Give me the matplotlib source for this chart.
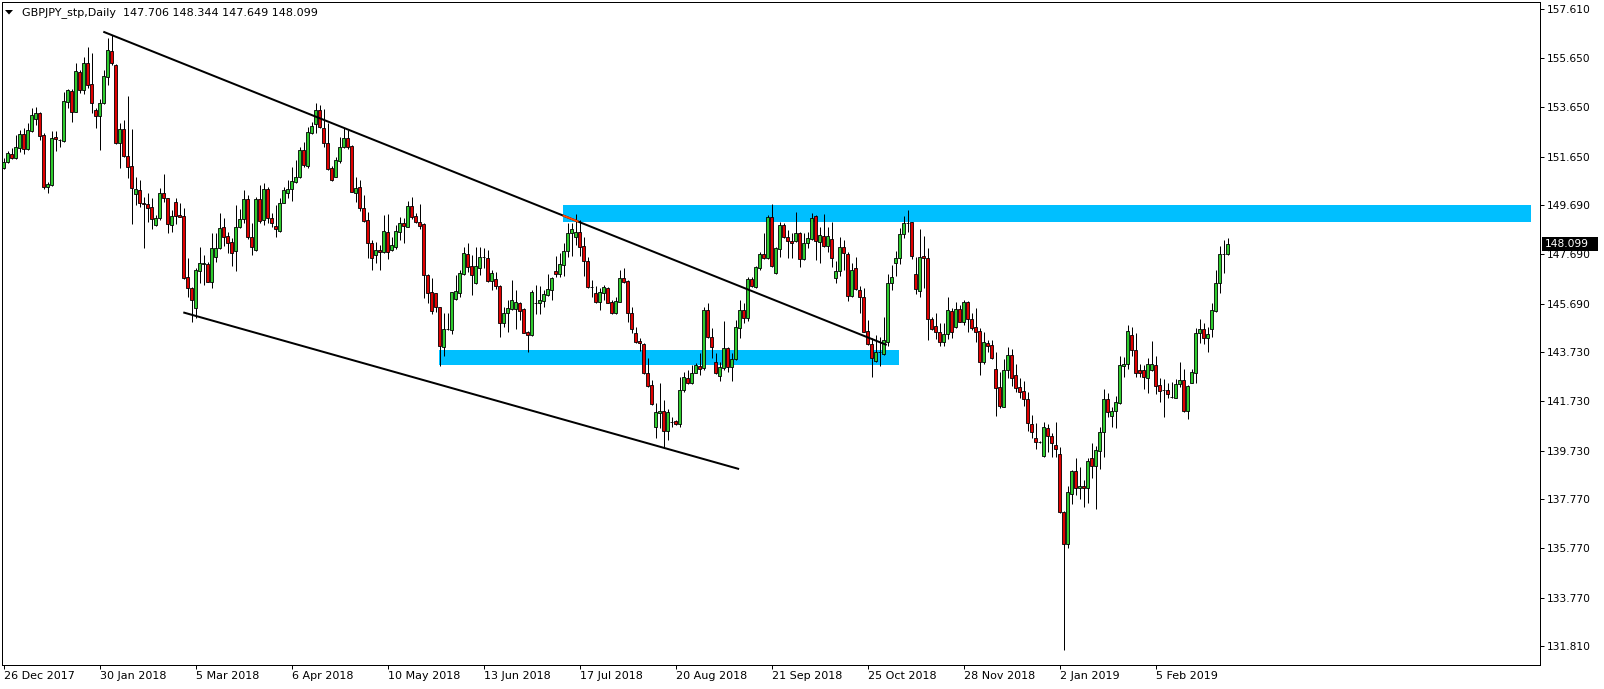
import matplotlib
matplotlib.use('Agg')
import matplotlib.pyplot as plt
import matplotlib.transforms as mtransforms
from matplotlib.patches import Rectangle, Polygon
import numpy as np

# chart header
symbol = 'GBPJPY_stp,Daily'

# daily OHLC, 26 Dec 2017 .. early Mar 2019
opens = [
    151.20, 151.41, 151.74, 151.58, 152.01, 152.55, 151.95, 152.68, 153.16, 153.40,
    152.52, 150.43, 150.49, 152.45, 152.33, 152.29, 153.85, 154.31, 153.47, 155.06,
    154.35, 155.43, 154.58, 153.54, 153.31, 153.81, 154.89, 155.93, 155.36, 152.18,
    152.77, 151.67, 151.27, 150.12, 150.29, 149.78, 149.72, 149.59, 148.87, 149.14,
    150.16, 149.95, 148.87, 149.79, 149.28, 149.24, 146.75, 146.31, 145.50, 147.02,
    147.28, 147.28, 146.57, 147.59, 147.93, 148.79, 148.44, 148.17, 147.83, 148.78,
    149.10, 149.91, 148.40, 147.86, 149.91, 149.08, 150.32, 149.14, 148.83, 148.64,
    149.78, 150.16, 150.32, 150.63, 150.81, 151.91, 151.28, 152.59, 152.97, 153.54,
    152.79, 152.21, 151.17, 150.83, 151.48, 152.02, 152.39, 152.08, 150.16, 150.40,
    149.55, 149.08, 148.16, 147.64, 147.86, 147.79, 148.60, 147.86, 148.00, 148.60,
    148.94, 148.81, 149.64, 149.24, 149.01, 148.91, 146.85, 146.14, 146.10, 145.54,
    143.91, 144.64, 144.62, 145.86, 146.13, 146.89, 147.70, 147.21, 146.54, 147.12,
    147.56, 147.52, 146.62, 146.67, 146.40, 144.91, 145.29, 145.46, 145.46, 145.70,
    145.45, 144.52, 144.41, 145.70, 145.70, 145.81, 146.04, 146.24, 147.01, 146.89,
    147.25, 147.83, 148.54, 148.37, 148.58, 148.02, 147.41, 146.35, 146.13, 145.77,
    146.13, 146.31, 145.74, 145.32, 145.77, 146.71, 146.62, 145.29, 144.51, 144.17,
    144.04, 142.86, 142.39, 140.67, 141.24, 141.33, 140.54, 140.87, 140.93, 140.79,
    142.18, 142.66, 142.45, 142.89, 143.16, 143.06, 145.43, 144.35, 143.33, 142.77,
    143.06, 143.87, 143.13, 143.43, 144.71, 145.43, 145.09, 146.67, 146.35, 147.12,
    147.68, 147.52, 149.18, 146.91, 147.89, 148.87, 148.37, 148.23, 148.24, 148.56,
    147.48, 148.13, 148.29, 149.24, 148.17, 148.43, 148.04, 148.31, 146.71, 147.01,
    147.97, 147.70, 146.01, 147.12, 146.24, 145.94, 144.58, 144.04, 143.37, 143.71,
    143.63, 144.14, 146.51, 147.32, 147.52, 148.50, 148.94, 148.98, 146.87, 146.21,
    147.62, 147.52, 145.06, 144.78, 144.52, 144.14, 144.44, 145.39, 144.75, 145.47,
    144.93, 145.74, 145.05, 144.73, 144.58, 143.33, 144.08, 144.01, 143.04, 142.29,
    141.51, 142.98, 143.60, 142.79, 142.29, 142.14, 141.82, 140.81, 140.23, 140.06,
    139.52, 140.63, 140.32, 139.96, 139.58, 137.25, 135.94, 137.95, 138.90, 138.20,
    138.29, 138.20, 139.41, 139.10, 139.71, 140.47, 141.81, 141.14, 141.33, 141.67,
    143.17, 143.22, 144.41, 143.81, 143.00, 143.00, 142.66, 143.00, 143.20, 142.39,
    142.19, 142.19, 141.89, 141.88, 142.43, 142.59, 141.35, 142.48, 142.86, 144.48,
    144.64, 144.28, 144.64, 145.40, 146.51, 147.68, 147.706,
]
highs = [
    151.60, 151.87, 151.98, 152.52, 152.72, 152.79, 152.99, 153.63, 153.67, 153.44,
    152.59, 150.63, 152.68, 152.68, 152.36, 154.28, 154.39, 154.39, 155.43, 155.16,
    155.70, 156.08, 155.83, 153.60, 153.98, 155.16, 156.44, 156.58, 155.39, 152.99,
    153.13, 154.10, 152.77, 150.83, 150.70, 150.02, 150.16, 149.95, 149.28, 150.36,
    150.93, 149.98, 149.48, 149.98, 149.75, 149.55, 147.52, 146.37, 147.12, 147.99,
    147.66, 147.36, 148.54, 148.54, 149.35, 149.14, 148.60, 148.33, 149.68, 149.51,
    150.29, 150.09, 148.94, 150.02, 150.50, 150.56, 150.43, 149.35, 149.68, 149.95,
    150.43, 150.70, 151.21, 151.51, 152.05, 152.25, 152.86, 153.06, 153.83, 153.74,
    153.56, 152.99, 151.27, 151.64, 152.45, 152.79, 152.72, 152.12, 150.83, 150.70,
    150.09, 149.41, 148.27, 148.20, 148.06, 149.28, 149.32, 148.40, 148.87, 149.21,
    149.14, 149.86, 149.99, 149.35, 149.72, 148.94, 146.89, 146.71, 146.13, 145.56,
    145.29, 145.29, 146.17, 146.85, 147.05, 147.99, 148.13, 147.66, 147.97, 147.99,
    147.93, 147.86, 147.05, 146.98, 146.44, 145.56, 145.83, 146.64, 146.24, 145.77,
    145.50, 144.59, 146.24, 146.44, 146.40, 146.24, 146.89, 146.75, 147.62, 147.75,
    148.13, 148.94, 148.97, 149.32, 149.08, 148.37, 147.59, 146.64, 146.40, 146.31,
    146.44, 146.35, 145.83, 145.94, 147.05, 147.12, 146.64, 145.56, 144.75, 144.28,
    144.10, 143.47, 142.59, 141.64, 142.45, 141.78, 141.40, 141.10, 140.97, 142.72,
    142.93, 142.99, 143.20, 143.29, 143.67, 145.56, 145.70, 144.68, 143.67, 143.33,
    144.99, 143.94, 143.67, 145.02, 145.83, 145.70, 146.75, 146.75, 147.21, 147.79,
    148.56, 149.28, 149.72, 147.97, 149.01, 148.94, 148.67, 148.56, 149.41, 148.60,
    148.54, 148.60, 149.35, 149.28, 148.81, 149.32, 148.81, 148.98, 147.41, 148.40,
    148.27, 147.79, 147.32, 147.59, 146.40, 146.33, 145.02, 144.28, 144.41, 144.35,
    145.16, 146.87, 147.25, 147.82, 148.74, 149.24, 149.48, 149.01, 147.59, 148.71,
    148.43, 147.95, 145.16, 145.29, 144.89, 144.89, 145.94, 145.49, 145.74, 145.63,
    145.83, 145.79, 145.32, 145.49, 144.71, 144.55, 144.21, 144.21, 143.74, 142.93,
    143.44, 143.91, 143.85, 143.24, 142.66, 142.55, 142.12, 141.17, 140.83, 140.12,
    140.90, 140.81, 140.43, 140.90, 139.89, 137.29, 138.29, 138.94, 139.41, 139.08,
    138.54, 139.44, 140.05, 139.91, 140.70, 142.21, 142.05, 141.48, 141.94, 143.56,
    143.54, 144.82, 144.75, 144.48, 143.24, 143.20, 143.47, 144.18, 143.56, 142.66,
    142.62, 142.48, 142.52, 142.62, 143.33, 143.02, 142.39, 143.02, 144.71, 145.06,
    144.89, 144.73, 145.70, 147.05, 148.02, 148.27, 148.344,
]
lows = [
    151.14, 151.37, 151.55, 151.55, 151.85, 151.74, 151.91, 152.66, 152.93, 152.32,
    150.33, 150.16, 150.47, 151.87, 152.05, 152.25, 153.60, 153.06, 153.44, 154.21,
    154.17, 154.41, 153.40, 152.79, 151.91, 153.77, 154.55, 155.36, 152.14, 151.17,
    151.64, 150.79, 148.90, 149.69, 149.62, 147.95, 149.01, 148.71, 148.83, 149.08,
    149.82, 148.54, 148.58, 148.90, 149.18, 146.68, 145.97, 144.95, 145.09, 146.51,
    146.44, 146.55, 146.31, 147.39, 147.89, 148.02, 147.75, 147.21, 147.02, 148.74,
    148.94, 148.29, 147.66, 147.83, 148.94, 148.87, 148.97, 148.81, 148.37, 148.60,
    149.75, 149.95, 149.86, 150.59, 150.77, 151.24, 151.17, 152.56, 152.59, 152.79,
    152.02, 151.10, 150.67, 150.81, 151.37, 151.98, 151.94, 150.20, 149.82, 149.45,
    149.01, 147.52, 147.05, 147.32, 147.05, 147.72, 147.48, 147.82, 147.89, 148.27,
    148.16, 148.78, 149.10, 148.97, 148.70, 145.90, 145.70, 145.25, 145.36, 143.17,
    143.58, 144.62, 144.46, 145.83, 145.96, 146.85, 146.98, 146.04, 146.48, 146.85,
    147.12, 146.58, 146.24, 146.27, 144.35, 144.73, 144.55, 145.43, 144.64, 145.02,
    144.48, 143.74, 144.39, 145.25, 145.25, 145.56, 146.00, 145.83, 146.75, 146.78,
    146.81, 147.59, 147.62, 148.06, 147.62, 146.81, 146.31, 145.97, 145.73, 145.43,
    145.83, 145.70, 145.25, 145.25, 145.74, 146.54, 144.95, 144.48, 144.07, 143.78,
    142.83, 142.32, 141.58, 140.22, 140.63, 139.82, 140.16, 140.70, 140.77, 140.70,
    142.12, 142.43, 142.43, 142.86, 142.79, 142.99, 144.28, 143.47, 142.83, 142.56,
    142.99, 142.93, 142.56, 143.40, 144.31, 144.91, 144.98, 146.37, 146.31, 147.05,
    147.48, 147.48, 147.18, 146.89, 147.59, 148.33, 147.55, 147.52, 148.20, 147.18,
    147.45, 147.93, 148.27, 147.45, 147.32, 148.00, 147.79, 147.18, 146.51, 146.81,
    147.05, 145.79, 145.97, 146.24, 145.29, 144.52, 144.01, 142.73, 143.33, 143.17,
    143.60, 143.98, 146.24, 146.81, 147.28, 148.33, 148.60, 147.48, 146.06, 145.97,
    146.31, 144.21, 144.62, 144.25, 143.98, 143.98, 144.24, 144.31, 144.71, 144.93,
    144.82, 144.52, 144.62, 144.14, 142.79, 143.23, 143.74, 143.44, 141.14, 141.47,
    141.48, 142.69, 142.36, 142.12, 141.87, 141.55, 140.54, 140.23, 139.79, 140.02,
    139.45, 139.68, 139.48, 139.48, 137.21, 131.66, 135.79, 137.56, 137.93, 137.75,
    137.43, 137.62, 138.60, 137.35, 138.97, 139.48, 141.08, 140.67, 140.63, 141.60,
    142.70, 143.05, 143.56, 142.73, 142.73, 142.21, 142.05, 142.97, 142.02, 141.71,
    141.10, 141.85, 141.85, 141.85, 142.32, 141.28, 141.00, 142.45, 142.45, 144.10,
    144.05, 143.74, 144.32, 145.36, 146.13, 146.94, 147.649,
]
closes = [
    151.44, 151.78, 151.58, 152.02, 152.55, 151.95, 152.72, 153.33, 153.40, 152.49,
    150.43, 150.52, 152.39, 152.35, 152.31, 153.90, 154.33, 153.44, 155.12, 154.35,
    155.43, 154.55, 153.81, 153.31, 153.81, 154.91, 155.97, 155.45, 152.18, 152.77,
    151.68, 151.24, 150.39, 150.33, 149.75, 149.71, 149.58, 149.10, 149.14, 150.16,
    149.95, 148.90, 149.24, 149.25, 149.21, 146.71, 146.31, 145.83, 147.05, 147.33,
    147.35, 146.57, 147.93, 147.93, 148.77, 148.40, 148.16, 147.75, 148.78, 149.12,
    149.91, 148.37, 147.99, 149.91, 149.05, 150.32, 149.14, 148.94, 148.70, 149.78,
    150.29, 150.32, 150.66, 150.81, 151.91, 151.31, 152.63, 152.89, 153.54, 152.83,
    152.21, 151.14, 150.70, 151.51, 152.05, 152.39, 152.05, 150.22, 150.36, 149.55,
    149.05, 148.16, 147.52, 147.86, 147.79, 148.63, 147.79, 148.06, 148.63, 148.94,
    148.83, 149.64, 149.18, 149.01, 148.83, 146.85, 146.13, 145.40, 145.56, 143.97,
    144.64, 144.67, 146.14, 146.20, 146.91, 147.72, 147.18, 146.85, 147.21, 147.56,
    147.58, 146.62, 146.91, 146.40, 144.91, 145.29, 145.50, 145.83, 145.74, 145.40,
    144.51, 144.41, 146.14, 145.71, 145.83, 146.08, 146.27, 146.71, 146.90, 147.28,
    147.83, 148.54, 148.70, 148.58, 147.99, 147.43, 146.35, 146.37, 145.77, 146.14,
    146.35, 145.73, 145.32, 145.81, 146.71, 146.58, 145.29, 144.64, 144.14, 144.07,
    142.86, 142.36, 141.60, 141.28, 141.33, 140.54, 141.31, 140.89, 140.79, 142.18,
    142.70, 142.45, 142.89, 143.20, 143.02, 145.43, 144.32, 143.94, 142.86, 143.10,
    143.87, 143.13, 143.43, 144.75, 145.43, 145.12, 146.67, 146.40, 147.16, 147.68,
    147.52, 149.18, 147.21, 147.93, 148.87, 148.37, 148.24, 148.13, 148.54, 147.48,
    148.16, 148.33, 149.14, 148.24, 148.47, 148.04, 148.43, 147.55, 147.01, 147.97,
    147.73, 146.01, 147.05, 146.27, 145.97, 144.55, 144.04, 143.50, 143.71, 143.72,
    144.21, 146.51, 146.75, 147.52, 148.50, 148.94, 148.96, 147.63, 146.27, 147.56,
    147.52, 145.05, 144.64, 144.55, 144.14, 144.44, 145.43, 144.55, 145.47, 144.95,
    145.74, 145.05, 144.69, 144.55, 143.33, 144.12, 143.98, 143.47, 142.28, 141.54,
    142.98, 143.60, 142.69, 142.28, 142.12, 141.81, 140.83, 140.49, 140.06, 140.07,
    140.67, 140.32, 140.02, 139.78, 137.25, 135.94, 138.06, 138.91, 138.20, 138.29,
    138.20, 139.31, 139.10, 139.75, 140.49, 141.81, 141.28, 141.35, 141.68, 143.20,
    143.24, 144.58, 143.81, 142.89, 142.89, 142.70, 143.24, 143.24, 142.36, 142.16,
    142.20, 142.01, 141.90, 142.43, 142.59, 141.35, 142.35, 142.90, 144.48, 144.64,
    144.28, 144.44, 145.43, 146.51, 147.68, 147.70, 148.099,
]

# date labels every 24 bars
date_labels = ['26 Dec 2017', '30 Jan 2018', '5 Mar 2018', '6 Apr 2018', '10 May 2018',
               '13 Jun 2018', '17 Jul 2018', '20 Aug 2018', '21 Sep 2018', '25 Oct 2018',
               '28 Nov 2018', '2 Jan 2019', '5 Feb 2019']
label_step = 24

# price scale labels as shown by the terminal
price_ticks = [157.610, 155.650, 153.650, 151.650, 149.690, 147.690, 145.690,
               143.730, 141.730, 139.730, 137.770, 135.770, 133.770, 131.810]

# drawn objects: trendlines (bar index, price) and zones (bar from/to, price lo/hi)
upper_line = [(24.95, 156.71), (220.8, 144.01)]
lower_line = [(44.95, 145.33), (183.9, 138.98)]
upper_zone = (139.8, 381.8, 149.007, 149.685)
lower_zone = (108.95, 223.9, 143.198, 143.806)

W, H = 1604, 689
PX = 0.72  # one pixel in points
bull = '#2ecc2e'
bear = '#e00000'
zone_col = '#00bfff'
fs = 7.7
fs_x = 8.0

fig = plt.figure(figsize=(W / 100, H / 100), dpi=100)
ax = fig.add_axes([2 / W, (H - 665) / H, 1538 / W, 663 / H])
ax.set_xlim(-0.375, 384.125)
ax.set_ylim(131.036, 157.914)

o = np.array(opens)
h = np.array(highs)
l = np.array(lows)
c = np.array(closes)
x = np.arange(len(c))

# zones in the background
for x0, x1, p0, p1 in (upper_zone, lower_zone):
    ax.add_patch(Rectangle((x0, p0), x1 - x0, p1 - p0, facecolor=zone_col,
                           edgecolor='none', zorder=1))

# candles
ax.vlines(x, l, h, color='black', linewidth=PX, zorder=2)
up = c >= o
body_lo = np.minimum(o, c)
body_h = np.abs(c - o)
ax.bar(x[up], body_h[up], bottom=body_lo[up], width=0.72, color=bull,
       edgecolor='black', linewidth=0.6, zorder=3)
ax.bar(x[~up], body_h[~up], bottom=body_lo[~up], width=0.72, color=bear,
       edgecolor='black', linewidth=0.6, zorder=3)

# trendlines
for (xa, ya), (xb, yb) in (upper_line, lower_line):
    ax.plot([xa, xb], [ya, yb], color='black', linewidth=2 * PX, zorder=4,
            solid_capstyle='butt')

# part of the upper line lying over the zone is shown in orange-red
(xa, ya), (xb, yb) = upper_line
slope = (yb - ya) / (xb - xa)
seg_x0 = upper_zone[0]
seg_x1 = xa + (upper_zone[2] - ya) / slope
ax.plot([seg_x0, seg_x1], [ya + slope * (seg_x0 - xa), ya + slope * (seg_x1 - xa)],
        color='#ff4500', linewidth=2 * PX, zorder=5, solid_capstyle='butt')

# axes styling
for s in ax.spines.values():
    s.set_linewidth(PX)
    s.set_color('black')

ax.yaxis.tick_right()
ax.set_yticks(price_ticks)
ax.set_yticklabels([f'{v:.3f}' for v in price_ticks])
ax.tick_params(axis='y', direction='out', length=4 * PX, width=PX, pad=2.2,
               labelsize=fs, colors='black')

ticks_x = [i * label_step for i in range(len(date_labels))]
ax.set_xticks(ticks_x)
ax.set_xticklabels(date_labels, ha='left')
ax.tick_params(axis='x', direction='out', length=4 * PX, width=PX, pad=1.5,
               labelsize=fs_x, colors='black')

# header with last bar values
hdr = f'{symbol}  {opens[-1]:.3f} {highs[-1]:.3f} {lows[-1]:.3f} {closes[-1]:.3f}'
fig.text(22 / W, 1 - 12.5 / H, hdr, fontsize=fs_x, ha='left', va='center')
tri = [(5 / W, 1 - 10 / H), (13 / W, 1 - 10 / H), (9 / W, 1 - 14.5 / H)]
fig.patches.append(Polygon(tri, closed=True, facecolor='black', edgecolor='none',
                           transform=fig.transFigure, figure=fig))

# last price tag on the scale
trans = mtransforms.blended_transform_factory(ax.transAxes, ax.transData)
tag_h = 7 / 24.67
ax.add_patch(Rectangle((1 + 2 / 1538, closes[-1] - tag_h), 56 / 1538, 2 * tag_h,
                       transform=trans, facecolor='black', edgecolor='none',
                       clip_on=False, zorder=6))
ax.text(1 + 5 / 1538, closes[-1], f'{closes[-1]:.3f}', transform=trans, color='white',
        fontsize=fs, ha='left', va='center', zorder=7, clip_on=False)

fig.savefig('out.png', dpi=100, facecolor='white')
